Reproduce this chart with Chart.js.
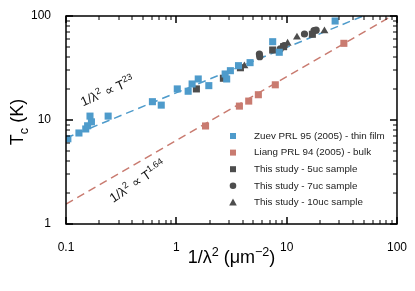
<!DOCTYPE html>
<html>
<head>
<meta charset="utf-8">
<script src="https://cdn.jsdelivr.net/npm/chart.js@4"></script>
<style>
  html, body { margin: 0; padding: 0; background: #fff; }
  #wrap { width: 415px; height: 291px; }
</style>
</head>
<body>
<div id="wrap"><canvas id="c"></canvas></div>
<script>
// Zuev PRL 95 (2005) - thin film
const zuevX = [0.104, 0.131, 0.151, 0.157, 0.165, 0.17, 0.241, 0.607, 0.73, 1.02, 1.28, 1.39, 1.58, 1.97, 2.77, 2.86, 3.09, 3.66, 4.66, 7.47, 8.57, 27.5];
const zuevY = [6.6, 7.5, 8.2, 8.8, 10.9, 9.6, 10.9, 15.0, 13.9, 19.9, 18.9, 22.2, 24.8, 21.4, 27.7, 24.8, 29.8, 33.3, 35.6, 56.6, 44.8, 89.5];
// Liang PRL 94 (2005) - bulk
const liangX = [1.84, 3.73, 4.53, 5.54, 7.89, 33];
const liangY = [8.76, 13.6, 15.2, 17.5, 21.8, 54.6];
// This study
const uc5X = [1.52, 2.67, 3.81, 7.47, 9.38, 17.1];
const uc5Y = [19.9, 25.2, 31.8, 47.1, 50.7, 66.7];
const uc7X = [5.66, 5.7, 8.75, 9.5, 14.5, 17.7, 18.5];
const uc7Y = [43.1, 40.6, 48.2, 51.8, 67.1, 72.2, 73.0];
const uc10X = [4.14, 10.2, 12.4, 22.0];
const uc10Y = [33.0, 54.6, 62.4, 71.7];
// fit lines (end points, clipped by the axes)
const fitBlueX = [0.1, 100];
const fitBlueY = [6.7, 136];
const fitRedX = [0.1, 100];
const fitRedY = [1.55, 107];

const xTickLabels = [0.1, 1, 10, 100];
const yTickLabels = [1, 10, 100];
// tick marks: 1..9 in each decade
const xTickMarks = [0.1, 0.2, 0.3, 0.4, 0.5, 0.6, 0.7, 0.8, 0.9, 1, 2, 3, 4, 5, 6, 7, 8, 9, 10, 20, 30, 40, 50, 60, 70, 80, 90, 100];
const yTickMarks = [1, 2, 3, 4, 5, 6, 7, 8, 9, 10, 20, 30, 40, 50, 60, 70, 80, 90, 100];

const blue = '#4e9bcb';
const red = '#c97b70';
const dark = '#4d4d4d';
const FONT = '"Liberation Sans", Arial, sans-serif';

function pts(xs, ys) {
  return xs.map((x, i) => ({ x: x, y: ys[i] }));
}

function isMajor(v, labels) {
  return labels.some(t => Math.abs(t - v) < 1e-9);
}

// draw text with superscript / subscript pieces
function drawRich(ctx, parts, x, y, angle, size) {
  ctx.save();
  ctx.translate(x, y);
  ctx.rotate(angle * Math.PI / 180);
  let total = 0;
  parts.forEach(p => {
    ctx.font = (p.sup || p.sub ? size * 0.7 : size) + 'px ' + FONT;
    p.w = ctx.measureText(p.t).width;
    total += p.w;
  });
  let cx = -total / 2;
  ctx.textBaseline = 'alphabetic';
  ctx.textAlign = 'left';
  parts.forEach(p => {
    ctx.font = (p.sup || p.sub ? size * 0.7 : size) + 'px ' + FONT;
    let dy = p.sup ? -size * 0.4 : (p.sub ? size * 0.25 : 0);
    ctx.fillText(p.t, cx, dy);
    cx += p.w;
  });
  ctx.restore();
}

const framePlugin = {
  id: 'frame',
  afterDraw(chart) {
    const c = chart.ctx;
    const a = chart.chartArea;
    const xs = chart.scales.x, ys = chart.scales.y;
    c.save();
    c.fillStyle = '#000';
    // inward ticks on all four sides
    xTickMarks.forEach(v => {
      const px = Math.round(xs.getPixelForValue(v));
      const major = isMajor(v, xTickLabels);
      const len = major ? 7 : 4;
      const w = major ? 1.5 : 1;
      c.fillRect(px - w / 2, a.bottom - len, w, len);
      c.fillRect(px - w / 2, a.top, w, len);
    });
    yTickMarks.forEach(v => {
      const py = Math.round(ys.getPixelForValue(v));
      const major = isMajor(v, yTickLabels);
      const len = major ? 7 : 4;
      const w = major ? 1.5 : 1;
      c.fillRect(a.left, py - w / 2, len, w);
      c.fillRect(a.right - len, py - w / 2, len, w);
    });
    c.strokeStyle = '#000';
    c.lineWidth = 1.5;
    c.setLineDash([]);
    c.strokeRect(a.left, a.top, a.right - a.left, a.bottom - a.top);

    // axis titles
    c.fillStyle = '#000';
    drawRich(c, [{ t: 'T' }, { t: 'c', sub: true }, { t: ' (K)' }], 23, (a.top + a.bottom) / 2 + 2, -90, 18);
    drawRich(c, [{ t: '1/λ' }, { t: '2', sup: true }, { t: ' (μm' }, { t: '−2', sup: true }, { t: ')' }],
      (a.left + a.right) / 2, 263, 0, 18);

    // fit annotations
    c.fillStyle = '#111';
    drawRich(c, [{ t: '1/λ' }, { t: '2', sup: true }, { t: ' ∝ T' }, { t: '23', sup: true }], 109, 95, -24, 13);
    drawRich(c, [{ t: '1/λ' }, { t: '2', sup: true }, { t: ' ∝ T' }, { t: '1.64', sup: true }], 140, 185, -34, 13);

    // legend inside the plot
    const lx = 233, tx = 254;
    let ly = 136;
    chart.data.datasets.filter(d => !d.showLine).forEach(d => {
      c.fillStyle = d.backgroundColor;
      c.beginPath();
      if (d.pointStyle === 'circle') {
        c.arc(lx, ly, 3.3, 0, Math.PI * 2);
      } else if (d.pointStyle === 'triangle') {
        c.moveTo(lx, ly - 4); c.lineTo(lx + 3.8, ly + 3); c.lineTo(lx - 3.8, ly + 3); c.closePath();
      } else {
        c.rect(lx - 3, ly - 3, 6, 6);
      }
      c.fill();
      c.fillStyle = '#222';
      c.font = '9.8px ' + FONT;
      c.textBaseline = 'middle';
      c.textAlign = 'left';
      c.fillText(d.label, tx, ly);
      ly += 16.6;
    });
    c.restore();
  }
};

new Chart(document.getElementById('c'), {
  type: 'scatter',
  data: {
    datasets: [
      { label: 'fit blue', data: pts(fitBlueX, fitBlueY), showLine: true, borderColor: blue, borderWidth: 1.5,
        borderDash: [8, 5], pointRadius: 0, clip: 0, order: 10 },
      { label: 'fit red', data: pts(fitRedX, fitRedY), showLine: true, borderColor: red, borderWidth: 1.5,
        borderDash: [8, 5], pointRadius: 0, clip: 0, order: 10 },
      { label: 'Zuev PRL 95 (2005) - thin film', data: pts(zuevX, zuevY), pointStyle: 'rect', pointRadius: 5,
        backgroundColor: blue, borderWidth: 0, clip: 0 },
      { label: 'Liang PRL 94 (2005) - bulk', data: pts(liangX, liangY), pointStyle: 'rect', pointRadius: 5,
        backgroundColor: red, borderWidth: 0, clip: 0 },
      { label: 'This study - 5uc sample', data: pts(uc5X, uc5Y), pointStyle: 'rect', pointRadius: 5,
        backgroundColor: dark, borderWidth: 0, clip: 0 },
      { label: 'This study - 7uc sample', data: pts(uc7X, uc7Y), pointStyle: 'circle', pointRadius: 3.6,
        backgroundColor: dark, borderWidth: 0, clip: 0 },
      { label: 'This study - 10uc sample', data: pts(uc10X, uc10Y), pointStyle: 'triangle', pointRadius: 4.6,
        backgroundColor: dark, borderWidth: 0, clip: 0 }
    ]
  },
  options: {
    responsive: true,
    maintainAspectRatio: false,
    animation: false,
    layout: { padding: { left: 0, top: 16, right: 17, bottom: 0 } },
    plugins: { legend: { display: false }, tooltip: { enabled: false } },
    scales: {
      x: {
        type: 'logarithmic', min: 0.1, max: 100,
        grid: { display: false }, border: { display: false },
        afterFit(s) { s.height = 67; },
        ticks: {
          autoSkip: false, maxRotation: 0, padding: 8, color: '#000',
          font: { family: FONT, size: 12 },
          callback: v => isMajor(v, xTickLabels) ? String(v) : ''
        }
      },
      y: {
        type: 'logarithmic', min: 1, max: 100,
        grid: { display: false }, border: { display: false },
        afterFit(s) { s.width = 66; },
        ticks: {
          autoSkip: false, padding: 7, color: '#000',
          font: { family: FONT, size: 12 },
          callback: v => isMajor(v, yTickLabels) ? String(v) : ''
        }
      }
    }
  },
  plugins: [framePlugin]
});
</script>
</body>
</html>
